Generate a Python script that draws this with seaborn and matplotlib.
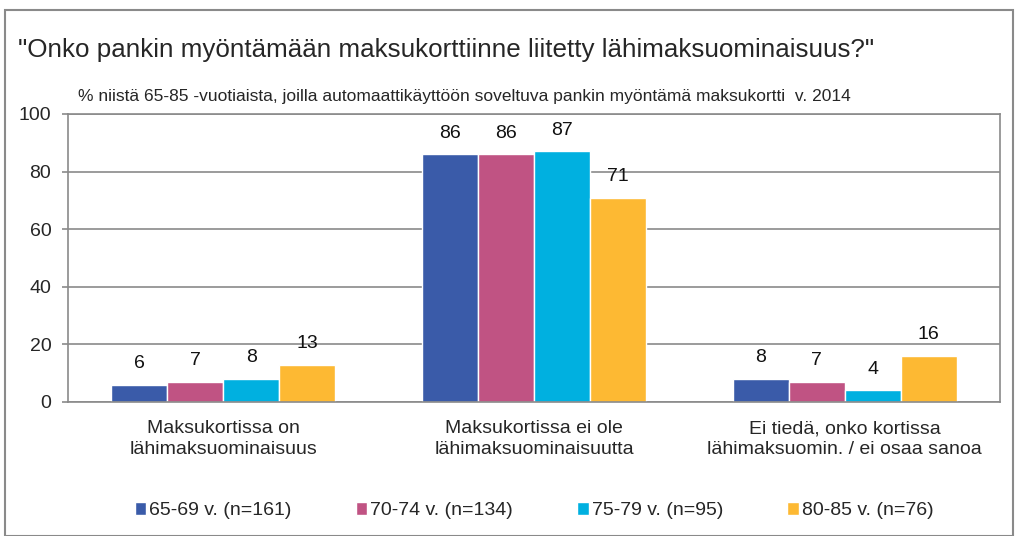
import matplotlib
matplotlib.use("Agg")
import matplotlib.pyplot as plt
import seaborn as sns
import pandas as pd
from matplotlib.patches import Rectangle

categories = [
    "Maksukortissa on\nlähimaksuominaisuus",
    "Maksukortissa ei ole\nlähimaksuominaisuutta",
    "Ei tiedä, onko kortissa\nlähimaksuomin. / ei osaa sanoa",
]
groups = ["65-69 v. (n=161)", "70-74 v. (n=134)", "75-79 v. (n=95)", "80-85 v. (n=76)"]
values_6569 = [6, 86, 8]
values_7074 = [7, 86, 7]
values_7579 = [8, 87, 4]
values_8085 = [13, 71, 16]
colors = ["#3A5BA9", "#C05383", "#00B0E0", "#FDB933"]

title = '"Onko pankin myöntämään maksukorttiinne liitetty lähimaksuominaisuus?"'
subtitle = "% niistä 65-85 -vuotiaista, joilla automaattikäyttöön soveltuva pankin myöntämä maksukortti  v. 2014"

rows = []
for g, vals in zip(groups, [values_6569, values_7074, values_7579, values_8085]):
    for c, v in zip(categories, vals):
        rows.append({"kategoria": c, "ryhmä": g, "arvo": v})
df = pd.DataFrame(rows)

sns.set_theme(style="white")
plt.rcParams["font.family"] = ["Liberation Sans", "DejaVu Sans"]

fig = plt.figure(figsize=(10.19, 5.36), dpi=100)
ax = fig.add_axes([68 / 1019, 134 / 536, 932 / 1019, 288 / 536])

sns.barplot(data=df, x="kategoria", y="arvo", hue="ryhmä", palette=colors,
            width=0.72, gap=0, saturation=1, ax=ax, legend=True)

for cont in ax.containers:
    ax.bar_label(cont, padding=9, fontsize=14, color="#111111")

ax.set_ylim(0, 100)
ax.set_yticks(range(0, 101, 20))
ax.yaxis.grid(True, color="#8a8a8a", linewidth=1.2)
ax.set_axisbelow(True)
ax.set_xlabel("")
ax.set_ylabel("")
ax.tick_params(axis="y", labelsize=14, length=4, width=1.2, color="#8a8a8a",
               direction="out", left=True, pad=8)
ax.tick_params(axis="x", labelsize=14, length=0, pad=13)
for lbl in ax.get_xticklabels():
    lbl.set_linespacing(1.3)
for s in ax.spines.values():
    s.set_color("#8a8a8a")
    s.set_linewidth(1.2)

ax.legend(loc="center", bbox_to_anchor=(0.5, -0.378), ncol=4, frameon=False,
          fontsize=14, handlelength=0.6, handleheight=0.6, handletextpad=0.15,
          columnspacing=3.3)

fig.text(18 / 1019, 1 - 50 / 536, title, fontsize=18.7, va="center", ha="left")
fig.text(78 / 1019, 1 - 97 / 536, subtitle, fontsize=12.5, va="center", ha="left")

fig.patches.append(Rectangle((5 / 1019, 0), 1008 / 1019, 526 / 536, transform=fig.transFigure,
                             fill=False, edgecolor="#8a8a8a", linewidth=1.5))

fig.savefig("out.png", dpi=100)
